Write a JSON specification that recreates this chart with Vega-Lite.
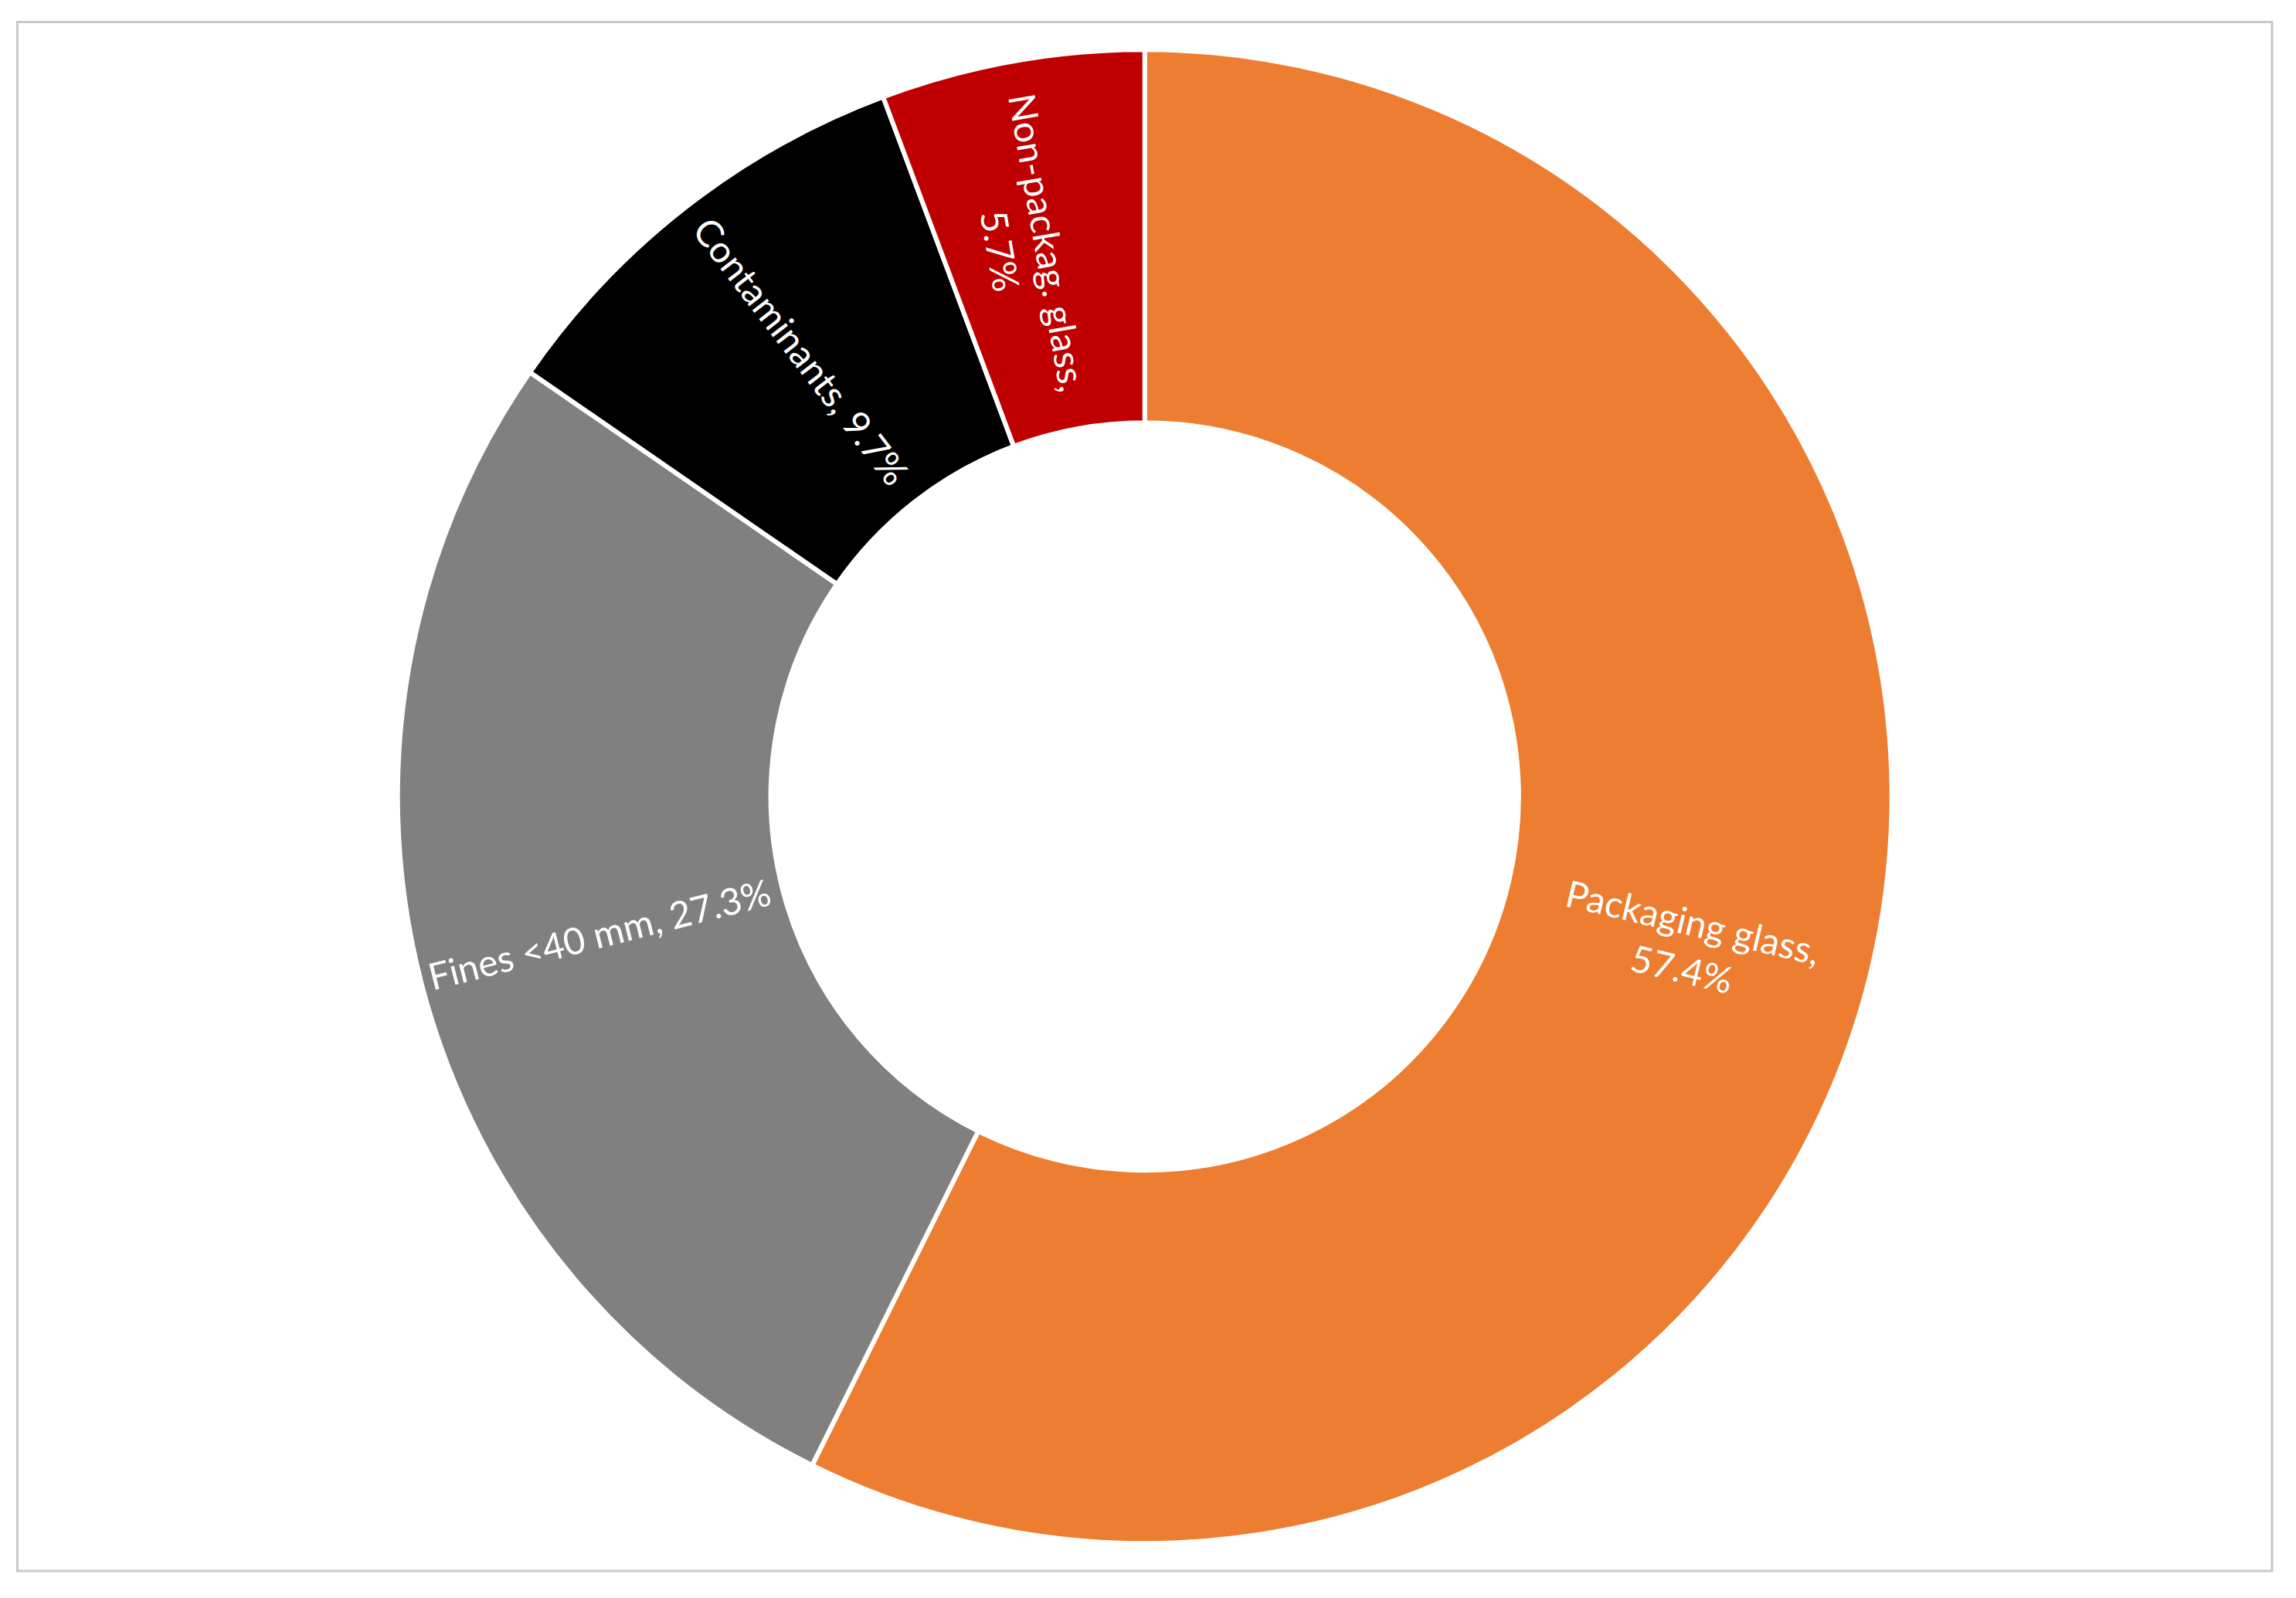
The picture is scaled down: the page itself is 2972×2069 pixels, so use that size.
{
  "$schema": "https://vega.github.io/schema/vega-lite/v6.json",
  "width": 2918.5,
  "height": 2005.5,
  "padding": {"left": 22.5, "top": 28.5, "right": 31, "bottom": 35},
  "autosize": {"type": "none"},
  "background": "white",
  "config": {"view": {"stroke": null}},
  "data": {
    "values": [
      {"category": "Packaging glass", "value": 57.4, "label": "Packaging glass,\n57.4%"},
      {"category": "Fines <40 mm", "value": 27.3, "label": "Fines <40 mm, 27.3%"},
      {"category": "Contaminants", "value": 9.7, "label": "Contaminants, 9.7%"},
      {"category": "Non-packag. glass", "value": 5.7, "label": "Non-packag. glass,\n5.7%"}
    ]
  },
  "layer": [
    {
      "data": {"values": [{"frame": "border"}]},
      "mark": {"type": "rect", "fill": null, "stroke": "#c8c8c8", "strokeWidth": 3},
      "encoding": {
        "x": {"value": 0},
        "x2": {"value": "width"},
        "y": {"value": 0},
        "y2": {"value": "height"}
      }
    },
    {
      "mark": {"type": "arc", "outerRadius": 967, "innerRadius": 484, "stroke": "white", "strokeWidth": 6},
      "encoding": {
        "theta": {"field": "value", "type": "quantitative", "stack": true},
        "order": {"field": "value", "type": "quantitative", "sort": "descending"},
        "color": {
          "field": "category",
          "type": "nominal",
          "scale": {
            "domain": ["Packaging glass", "Fines <40 mm", "Contaminants", "Non-packag. glass"],
            "range": ["#ED7D31", "#808080", "#000000", "#C00000"]
          },
          "legend": null
        }
      }
    },
    {
      "mark": {"type": "text", "radius": 728, "fill": "white", "font": "Lato", "fontSize": 48, "align": "center", "baseline": "middle", "lineBreak": "\n", "lineHeight": 62},
      "encoding": {
        "theta": {"field": "value", "type": "quantitative", "stack": true},
        "order": {"field": "value", "type": "quantitative", "sort": "descending"},
        "text": {"field": "label"},
        "angle": {
          "field": "category",
          "type": "nominal",
          "scale": {
            "type": "ordinal",
            "domain": ["Packaging glass", "Fines <40 mm", "Contaminants", "Non-packag. glass"],
            "range": [13.3, -14.2, 52.4, 80.1]
          },
          "legend": null
        }
      }
    }
  ]
}
